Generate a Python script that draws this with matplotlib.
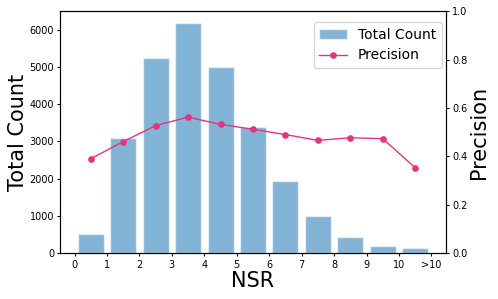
import matplotlib.pyplot as plt
import numpy as np

# NSR bins, counts per bin and precision per bin
tick_labels = ["0", "1", "2", "3", "4", "5", "6", "7", "8", "9", "10", ">10"]
counts = [505, 3100, 5240, 6190, 4990, 3380, 1930, 1000, 435, 205, 150]
precision = [0.390, 0.461, 0.527, 0.562, 0.532, 0.512, 0.490, 0.466, 0.477, 0.473, 0.353]

x = np.arange(len(counts)) + 0.5

fig, ax = plt.subplots(figsize=(4.98, 2.99), dpi=100)
ax2 = ax.twinx()

bars = ax.bar(x, counts, width=0.8, color="#1f77b4", alpha=0.55,
              edgecolor="white", linewidth=1.0, label="Total Count")
line, = ax2.plot(x, precision, color="#E2357F", marker="o", markersize=3.8,
                 linewidth=1.0, label="Precision")

ax.set_xticks(np.arange(len(tick_labels)))
ax.set_xticklabels(tick_labels)
ax.tick_params(labelsize=7, length=2.5, pad=2)
ax2.tick_params(labelsize=7, length=2.5, pad=2)
ax2.set_ylim(0, 1.0)

ax.set_xlabel("NSR", fontsize=15, labelpad=1)
ax.set_ylabel("Total Count", fontsize=15, labelpad=1)
ax2.set_ylabel("Precision", fontsize=15, labelpad=1)

ax.legend([bars, line], ["Total Count", "Precision"], loc="upper right",
          bbox_to_anchor=(0.99, 0.955), borderaxespad=0,
          fontsize=10, framealpha=0.8)

fig.subplots_adjust(left=0.121, right=0.895, top=0.963, bottom=0.153)
plt.savefig("out.png", dpi=100)
